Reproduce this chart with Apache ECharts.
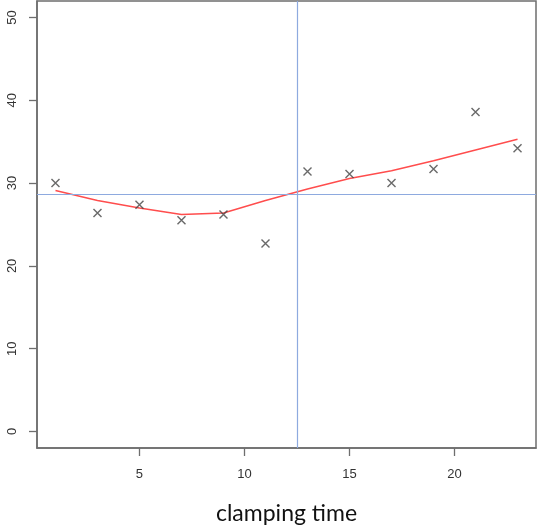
<!DOCTYPE html>
<html>
<head>
<meta charset="utf-8">
<script src="https://cdn.jsdelivr.net/npm/echarts@6/dist/echarts.min.js"></script>
<style>
html,body{margin:0;padding:0;background:#fff;}
#chart{width:537px;height:526px;}
</style>
</head>
<body>
<div id="chart"></div>
<script>
// Data
var xValues = [1, 3, 5, 7, 9, 11, 13, 15, 17, 19, 21, 23];
var yValues = [30.0, 26.4, 27.4, 25.5, 26.2, 22.7, 31.4, 31.1, 30.0, 31.7, 38.6, 34.2];
var smoothValues = [29.1, 27.9, 27.0, 26.2, 26.4, 27.9, 29.3, 30.55, 31.5, 32.7, 34.0, 35.3];
var meanY = 28.65;
var vLineX = 12.5;
var xTicks = [5, 10, 15, 20];
var yTicks = [0, 10, 20, 30, 40, 50];
var xTitle = 'clamping time';

var pts = xValues.map(function (x, i) { return [x, yValues[i]]; });
var smooth = xValues.map(function (x, i) { return [x, smoothValues[i]]; });

var axisColor = '#6e6e6e';
var chart = echarts.init(document.getElementById('chart'), null, {renderer: 'canvas'});
chart.setOption({
  animation: false,
  grid: {left: 37, right: 1, top: 1, bottom: 78, show: true, borderColor: axisColor, borderWidth: 1.5,
         containLabel: false, outerBoundsMode: 'none'},
  xAxis: {
    type: 'value', min: 0.12, max: 23.88,
    splitLine: {show: false},
    axisLine: {show: true, onZero: false, lineStyle: {color: axisColor, width: 1.5}},
    axisTick: {show: true, length: 8, customValues: xTicks, lineStyle: {color: axisColor, width: 1.3}},
    axisLabel: {customValues: xTicks, margin: 20, fontSize: 13, color: '#333', fontFamily: 'Liberation Sans, Arial, sans-serif'},
    name: xTitle, nameLocation: 'middle', nameGap: 54,
    nameTextStyle: {fontSize: 23, color: '#111', fontFamily: 'Lato, Open Sans, sans-serif', verticalAlign: 'top'}
  },
  yAxis: {
    type: 'value', min: -2, max: 52,
    splitLine: {show: false},
    axisLine: {show: true, onZero: false, lineStyle: {color: axisColor, width: 1.5}},
    axisTick: {show: true, length: 8, customValues: yTicks, lineStyle: {color: axisColor, width: 1.3}},
    axisLabel: {customValues: yTicks, rotate: 90, margin: 18, fontSize: 13, color: '#333', fontFamily: 'Liberation Sans, Arial, sans-serif'}
  },
  series: [
    {
      type: 'line', data: smooth, symbol: 'none', smooth: false,
      lineStyle: {color: '#ff4d4d', width: 1.5}, z: 3,
      markLine: {
        silent: true, symbol: 'none', label: {show: false},
        lineStyle: {color: '#8eaadf', width: 1.2, type: 'solid'},
        data: [{xAxis: vLineX}, {yAxis: meanY}]
      }
    },
    {
      type: 'scatter', data: pts,
      symbol: 'path://M0,0L10,10M10,0L0,10', symbolSize: 8,
      itemStyle: {color: 'rgba(0,0,0,0)', borderColor: '#444', borderWidth: 1.4},
      z: 4
    }
  ]
});
</script>
</body>
</html>
